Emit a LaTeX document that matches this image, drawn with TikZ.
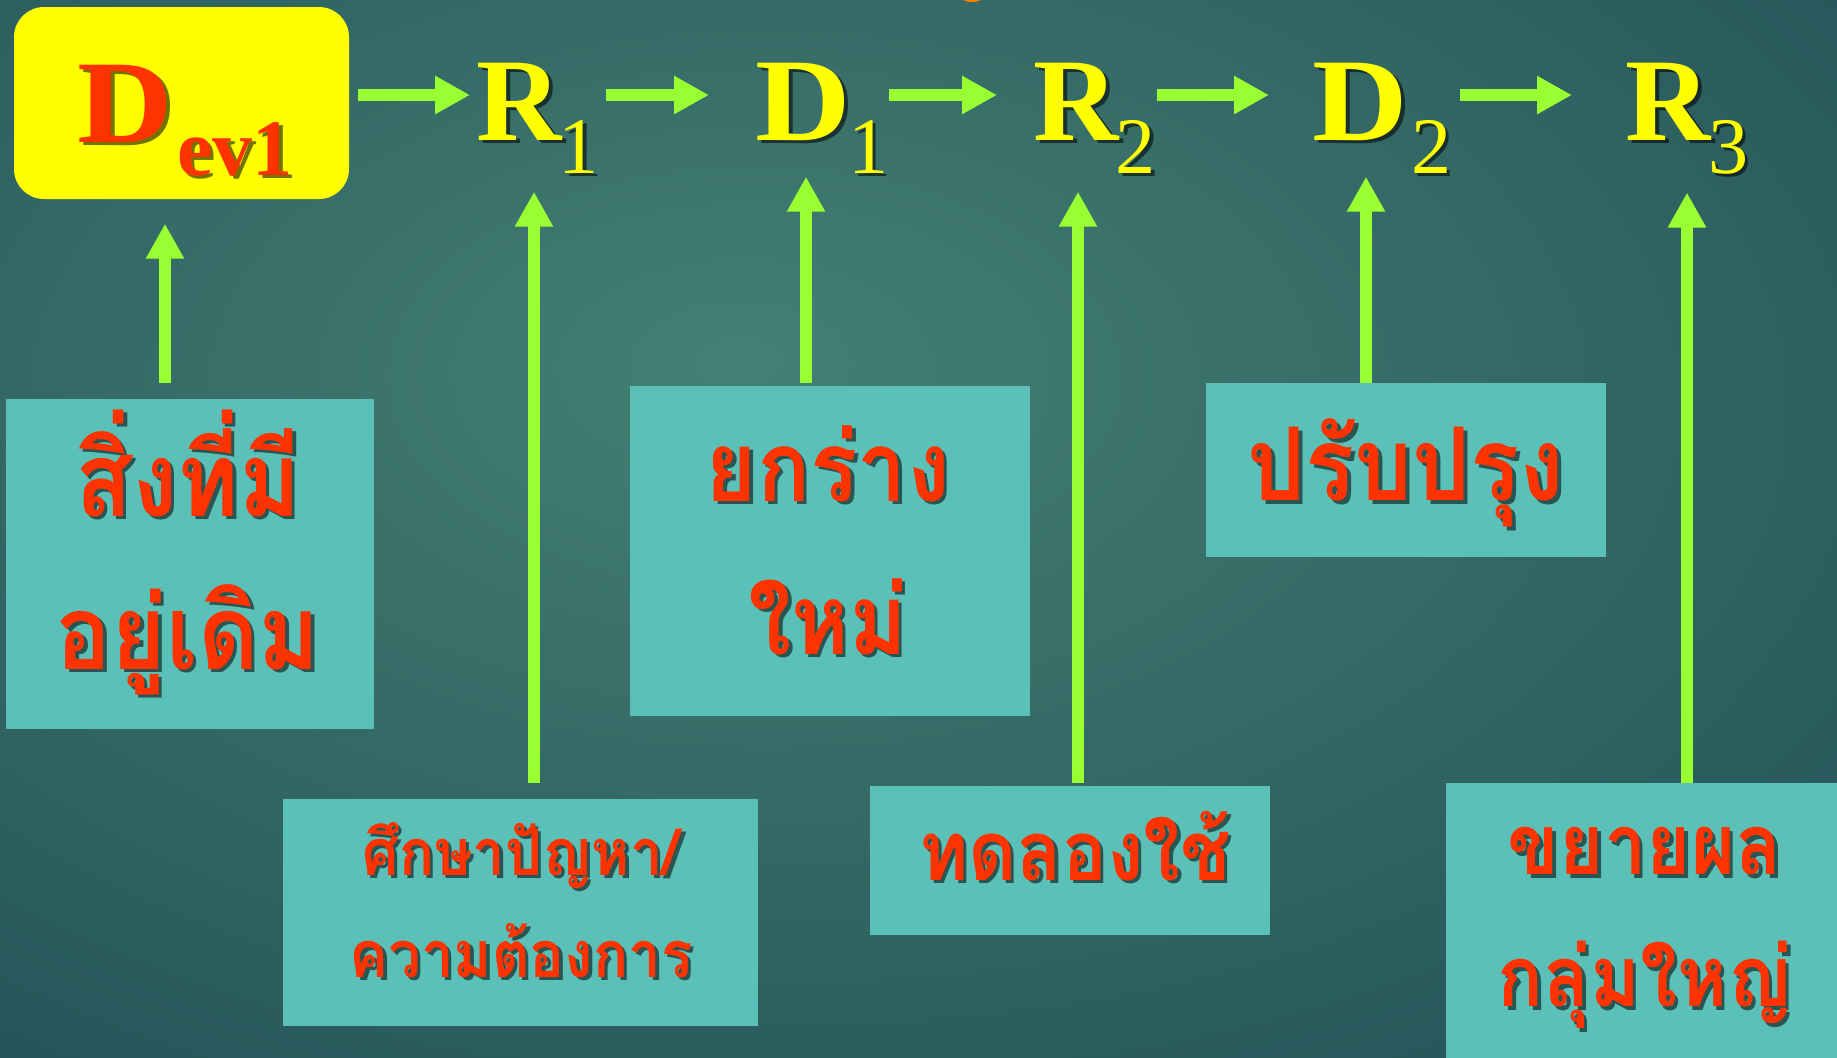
\documentclass[tikz,border=0pt]{standalone}
\usepackage{fontspec}
\setmainfont{Liberation Serif}
\newfontfamily\thaifont[Script=Thai, FakeStretch=0.9]{Loma}
\usetikzlibrary{arrows.meta, calc, positioning}

\definecolor{bgin}{RGB}{68,128,115}
\definecolor{bgout}{RGB}{32,76,84}
\definecolor{boxfill}{RGB}{91,192,184}
\definecolor{thred}{RGB}{255,51,0}
\definecolor{lime}{RGB}{153,255,51}
\definecolor{lettery}{RGB}{255,255,0}

\pgfdeclareradialshading{tealbg}{\pgfpoint{-5bp}{8bp}}{color(0bp)=(bgin); color(45bp)=(bgout); color(95bp)=(bgout!80!black)}

\newcommand\DD{\scalebox{1.12}[1]{D}}
\newcommand\sub[1]{\kern-0.3mm\raisebox{-3.3mm}{\fontsize{22.8pt}{24pt}\mdseries\selectfont #1}}
\newcommand\subb[1]{\kern0.4mm\raisebox{-3.3mm}{\fontsize{22.8pt}{24pt}\selectfont #1}}
% text with a dark drop shadow: name, style, position, text
\newcommand\shadowed[4]{%
  \node[#2, text=black, text opacity=0.55, xshift=0.35mm, yshift=-0.35mm] at #3 {#4};
  \node[#2] (#1) at #3 {#4};}

\tikzset{
  box/.style={rectangle, fill=boxfill, inner sep=0},
  flow/.style={lime, line width=1.2mm, -{Triangle[width=3.6mm,length=3.5mm]}},
  letter/.style={anchor=base west, inner sep=0, text=lettery,
    font=\fontsize{33.6pt}{36pt}\bfseries\selectfont},
  thaitext/.style={text=thred, align=center, inner sep=0,
    font=\thaifont\bfseries\fontsize{#1}{43.5pt}\selectfont},
  thaitext/.default=27pt
}

\begin{document}
\begin{tikzpicture}[x=0.1mm, y=-0.1mm]
\useasboundingbox (0,0) rectangle (1837,1057);
\clip (0,0) rectangle (1837,1057);
\shade[shading=tealbg] (0,0) rectangle (1837,1057);
\fill[orange] (972,-10) ellipse [x radius=16, y radius=12];

% top row
\node[box, fill=lettery, rounded corners=3mm, minimum width=33.5mm, minimum height=19.2mm] (DevBox) at (181.5,103) {};
\shadowed{Dev}{letter, text=thred}{(77,142)}{\DD\subb{ev1}}
\shadowed{R1}{letter}{(476,140)}{R\sub{1}}
\shadowed{D1}{letter}{(755,140)}{\DD\sub{1}}
\shadowed{R2}{letter}{(1033,140)}{R\sub{2}}
\shadowed{D2}{letter}{(1312,140)}{\DD\kern0.6mm\sub{2}}
\shadowed{R3}{letter}{(1625,140)}{R\sub{3}}

\coordinate (ay) at (0,95);
\draw[flow] ($(DevBox.east |- ay)+(8,0)$) -- ($(R1.west |- ay)+(-6,0)$);
\draw[flow] ($(R1.east |- ay)+(6,0)$) -- ($(D1.west |- ay)+(-46,0)$);
\draw[flow] ($(D1.east |- ay)+(0,0)$) -- ($(R2.west |- ay)+(-36,0)$);
\draw[flow] ($(R2.east |- ay)+(0,0)$) -- ($(D2.west |- ay)+(-43,0)$);
\draw[flow] ($(D2.east |- ay)+(8,0)$) -- ($(R3.west |- ay)+(-53,0)$);

% boxes
\node[box, minimum width=36.8mm, minimum height=33mm] (boxA) at (190,564) {};
\node[box, minimum width=47.5mm, minimum height=22.7mm] (boxB) at (520.5,912.5) {};
\node[box, minimum width=40mm, minimum height=33mm] (boxC) at (830,551) {};
\node[box, minimum width=40mm, minimum height=14.9mm] (boxD) at (1070,860.5) {};
\node[box, minimum width=40mm, minimum height=17.4mm] (boxE) at (1406,470) {};
\node[box, minimum width=45.4mm, minimum height=31.7mm] (boxF) at (1673,941.5) {};

\shadowed{tA}{thaitext=29.5pt}{(188,552)}{สิ่งที่มี\\อยู่เดิม}
\shadowed{tB}{thaitext=18.4pt, font=\thaifont\bfseries\fontsize{18.4pt}{29pt}\selectfont}{(521,900)}{ศึกษาปัญหา/\\ความต้องการ}
\shadowed{tC}{thaitext=27.8pt}{(828,540)}{ยกร่าง\\ใหม่}
\shadowed{tD}{thaitext=23.6pt}{(1075,846)}{ทดลองใช้}
\shadowed{tE}{thaitext=28.9pt}{(1406,473)}{ปรับปรุง}
\shadowed{tF}{thaitext=24pt, font=\thaifont\bfseries\fontsize{24pt}{37.5pt}\selectfont}{(1645,928)}{ขยายผล\\กลุ่มใหญ่}

% upward arrows
\coordinate (fromA) at (165,383);
\coordinate (fromB) at (534,783);
\coordinate (fromC) at (806,383);
\coordinate (fromD) at (1078,783);
\coordinate (fromE) at (1366,383);
\coordinate (fromF) at (1687,783);
\draw[flow] (fromA) -- ($(DevBox.south -| fromA)+(0,24)$);
\draw[flow] (fromB) -- ($(R1.south -| fromB)+(0,18)$);
\draw[flow] (fromC) -- ($(D1.south -| fromC)+(0,3)$);
\draw[flow] (fromD) -- ($(R2.south -| fromD)+(0,18)$);
\draw[flow] (fromE) -- ($(D2.south -| fromE)+(0,3)$);
\draw[flow] (fromF) -- ($(R3.south -| fromF)+(0,18)$);
\end{tikzpicture}
\end{document}
